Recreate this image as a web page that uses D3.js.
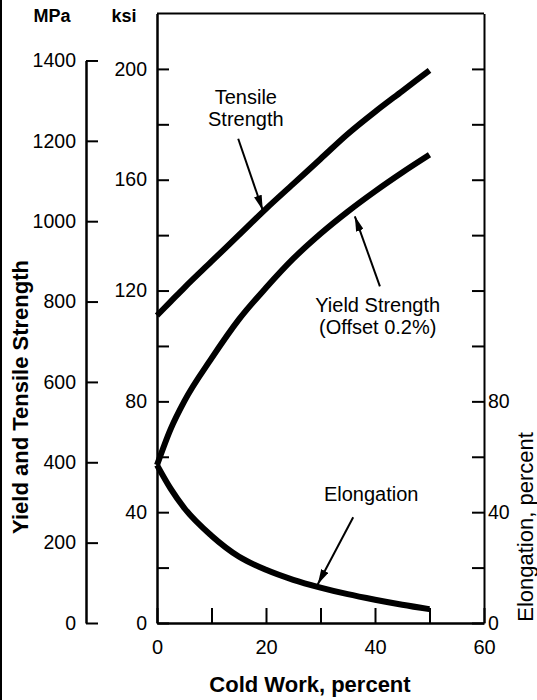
<!DOCTYPE html>
<html>
<head>
<meta charset="utf-8">
<script src="https://cdn.jsdelivr.net/npm/d3@7"></script>
<style>
  body { margin: 0; background: #fff; }
  svg { display: block; }
  text { font-family: "Liberation Sans", Arial, Helvetica, sans-serif; fill: #000; }
</style>
</head>
<body>
<svg id="chart" width="537" height="700"></svg>
<script>
// Cold work (%) and the resulting properties
const coldWork      = [0, 2.5, 5, 10, 15, 20, 25, 30, 35, 40, 45, 50];
const tensileKsi    = [111, 116, 121, 130.5, 140, 149.5, 158.5, 167.5, 176.5, 184.5, 192, 199.5];
const yieldKsi      = [57, 70, 80, 95.5, 109.5, 121, 131.5, 140.5, 148.5, 155.8, 162.6, 169];
const elongationPct = [57, 48.5, 41.5, 31.5, 24, 19.2, 15.6, 12.8, 10.4, 8.4, 6.6, 5];

// Axis ticks and labels
const xTicks       = [0, 10, 20, 30, 40, 50, 60];
const xLabels      = [0, 20, 40, 60];
const ksiTicks     = [0, 20, 40, 60, 80, 100, 120, 140, 160, 180, 200];
const ksiLabels    = [0, 40, 80, 120, 160, 200];
const mpaTicks     = [0, 200, 400, 600, 800, 1000, 1200, 1400];
const elongTicks   = [0, 20, 40, 60, 80, 100, 120, 140, 160, 180, 200];
const elongLabels  = [0, 40, 80];

const KSI_TO_MPA = 6.895;

const svg = d3.select("#chart");

const x = d3.scaleLinear().domain([0, 60]).range([157, 484]);
const y = d3.scaleLinear().domain([0, 220]).range([623, 13.5]);
const yElong = d3.scaleLinear().domain([0, 220]).range([623, 13.5]);
const yMpa = d3.scaleLinear().domain([0, 1400]).range([y(0), y(1400 / KSI_TO_MPA)]);

// page edge rule
svg.append("line").attr("x1", 1).attr("x2", 1).attr("y1", 0).attr("y2", 700)
  .attr("stroke", "#000").attr("stroke-width", 2);

function styleAxis(g, fontSize, domainW) {
  g.select(".domain").attr("stroke", "#000").attr("stroke-width", domainW);
  g.selectAll(".tick line").attr("stroke", "#000").attr("stroke-width", 2);
  g.selectAll(".tick text").attr("font-size", fontSize).attr("fill", "#000")
    .attr("font-family", '"Liberation Sans", Arial, Helvetica, sans-serif');
}

// MPa axis (stand-alone, to the left)
const gMpa = svg.append("g").attr("transform", "translate(86,0)")
  .call(d3.axisLeft(yMpa).tickValues(mpaTicks).tickSizeInner(-12).tickSizeOuter(0)
    .tickPadding(10).tickFormat(d3.format("d")));
styleAxis(gMpa, 19.5, 2.5);

// ksi axis = left frame edge
const gKsi = svg.append("g").attr("transform", "translate(157,0)")
  .call(d3.axisLeft(y).tickValues(ksiTicks).tickSizeInner(-12).tickSizeOuter(0)
    .tickPadding(10).tickFormat(d => ksiLabels.includes(d) ? d : ""));
styleAxis(gKsi, 19.5, 2.5);

// cold work axis = bottom frame edge
const gX = svg.append("g").attr("transform", "translate(0,623)")
  .call(d3.axisBottom(x).tickValues(xTicks).tickSizeInner(-15).tickSizeOuter(0)
    .tickPadding(17).tickFormat(d => xLabels.includes(d) ? d : ""));
styleAxis(gX, 20, 2.5);

// elongation axis = right frame edge
const gE = svg.append("g").attr("transform", "translate(484,0)")
  .call(d3.axisRight(yElong).tickValues(elongTicks).tickSizeInner(-12).tickSizeOuter(0)
    .tickPadding(4).tickFormat(d => elongLabels.includes(d) ? d : ""));
styleAxis(gE, 19.5, 2);

// top frame edge
svg.append("line")
  .attr("x1", x(0)).attr("x2", x(60)).attr("y1", y(220)).attr("y2", y(220))
  .attr("stroke", "#000").attr("stroke-width", 2);

// curves
const series = [
  { values: tensileKsi, scale: y },
  { values: yieldKsi, scale: y },
  { values: elongationPct, scale: yElong }
];
series.forEach(s => {
  const line = d3.line()
    .x((d, i) => x(coldWork[i]))
    .y(d => s.scale(d))
    .curve(d3.curveMonotoneX);
  svg.append("path").datum(s.values).attr("d", line)
    .attr("fill", "none").attr("stroke", "#000").attr("stroke-width", 6)
    .attr("stroke-linecap", "butt").attr("stroke-linejoin", "round");
});

// arrowheads
svg.append("defs").append("marker")
  .attr("id", "arrow").attr("viewBox", "0 0 15 8").attr("refX", 15).attr("refY", 4)
  .attr("markerWidth", 15).attr("markerHeight", 8).attr("markerUnits", "userSpaceOnUse")
  .attr("orient", "auto")
  .append("path").attr("d", "M0,0L15,4L0,8Z").attr("fill", "#000");

// callouts: label lines and arrows, placed in data units
const callouts = [
  { lines: ["Tensile", "Strength"], at: [16.3, 187.4], scale: y,
    arrow: [[14.9, 174.8], [19.4, 149]] },
  { lines: ["Yield Strength", "(Offset 0.2%)"], at: [40.5, 112.4], scale: y,
    arrow: [[40.9, 121.5], [36.3, 146.8]] },
  { lines: ["Elongation"], at: [39.3, 44], scale: yElong,
    arrow: [[36, 38.2], [29.5, 14]] }
];
callouts.forEach(c => {
  const t = svg.append("text")
    .attr("x", x(c.at[0])).attr("y", c.scale(c.at[1]))
    .attr("text-anchor", "middle").attr("font-size", 20);
  c.lines.forEach((s, i) => {
    t.append("tspan").attr("x", x(c.at[0])).attr("dy", i === 0 ? 0 : "1.1em").text(s);
  });
  svg.append("line")
    .attr("x1", x(c.arrow[0][0])).attr("y1", c.scale(c.arrow[0][1]))
    .attr("x2", x(c.arrow[1][0])).attr("y2", c.scale(c.arrow[1][1]))
    .attr("stroke", "#000").attr("stroke-width", 2)
    .attr("marker-end", "url(#arrow)");
});

// unit headers
svg.append("text").attr("x", 52).attr("y", 22).attr("text-anchor", "middle")
  .attr("font-size", 18).attr("font-weight", "bold").text("MPa");
svg.append("text").attr("x", 124).attr("y", 22).attr("text-anchor", "middle")
  .attr("font-size", 18).attr("font-weight", "bold").text("ksi");

// axis titles
svg.append("text").attr("x", 310).attr("y", 692).attr("text-anchor", "middle")
  .attr("font-size", 22).attr("font-weight", "bold").text("Cold Work, percent");
svg.append("text").attr("transform", "translate(28,397) rotate(-90)")
  .attr("text-anchor", "middle").attr("font-size", 22).attr("font-weight", "bold")
  .text("Yield and Tensile Strength");
svg.append("text").attr("transform", "translate(533,527) rotate(-90)")
  .attr("text-anchor", "middle").attr("font-size", 22)
  .text("Elongation, percent");
</script>
</body>
</html>
